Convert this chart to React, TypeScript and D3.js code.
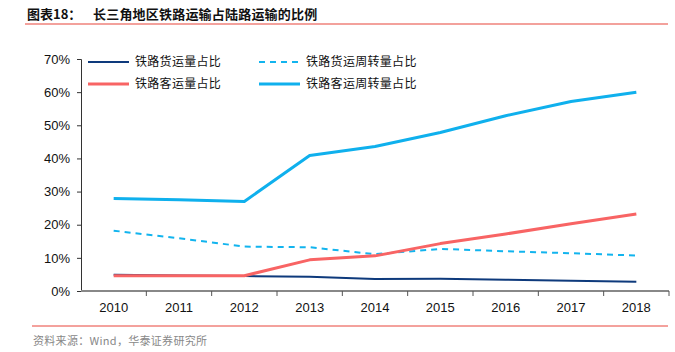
import { useEffect, useRef } from "react"
import * as d3 from "d3"

const years = ["2010", "2011", "2012", "2013", "2014", "2015", "2016", "2017", "2018"]
const freightVolume = [4.9, 4.7, 4.5, 4.3, 3.6, 3.7, 3.4, 3.1, 2.8]
const freightTurnover = [18.2, 15.9, 13.4, 13.2, 11.1, 12.7, 12.0, 11.4, 10.7]
const passengerVolume = [4.6, 4.6, 4.6, 9.4, 10.6, 14.3, 17.2, 20.3, 23.2]
const passengerTurnover = [27.9, 27.5, 27.0, 40.9, 43.6, 47.8, 52.9, 57.2, 60.0]
const yTicks = [0, 10, 20, 30, 40, 50, 60, 70]

const series = [
  { name: "铁路货运量占比", values: freightVolume, color: "#0e3a7c", width: 2, dash: "" },
  { name: "铁路货运周转量占比", values: freightTurnover, color: "#12b4ee", width: 2, dash: "6,5" },
  { name: "铁路客运量占比", values: passengerVolume, color: "#f86464", width: 3, dash: "" },
  { name: "铁路客运周转量占比", values: passengerTurnover, color: "#0fb0ed", width: 3, dash: "" },
]

export default function App() {
  const svgRef = useRef<SVGSVGElement>(null)

  useEffect(() => {
    if (!svgRef.current) return
    const svg = d3.select(svgRef.current)
    svg.selectAll("*").remove()

    const left = 81
    const right = 669
    const top = 59
    const bottom = 291
    const cjk = "'Noto Sans CJK SC', sans-serif"
    const latin = "'Liberation Sans', Arial, sans-serif"

    // title + rules
    svg.append("text")
      .attr("x", 27).attr("y", 19)
      .style("font-family", cjk).style("font-size", "13px").style("font-weight", "bold")
      .attr("fill", "#111")
      .text("图表18：")
    svg.append("text")
      .attr("x", 93).attr("y", 19)
      .style("font-family", cjk).style("font-size", "13px").style("font-weight", "bold")
      .style("letter-spacing", "0.2px")
      .attr("fill", "#111")
      .text("长三角地区铁路运输占陆路运输的比例")
    svg.append("line").attr("x1", 25).attr("x2", 668).attr("y1", 24).attr("y2", 24)
      .attr("stroke", "#e8443a").attr("stroke-width", 1.2)
    svg.append("line").attr("x1", 32).attr("x2", 668).attr("y1", 326).attr("y2", 326)
      .attr("stroke", "#e8443a").attr("stroke-width", 1)
    svg.append("text")
      .attr("x", 33).attr("y", 345)
      .style("font-family", cjk).style("font-size", "11px").style("letter-spacing", "0.3px")
      .attr("fill", "#888")
      .text("资料来源：Wind，华泰证券研究所")

    const x = d3.scaleBand<string>().domain(years).range([left, right])
    const y = d3.scaleLinear().domain([0, 70]).range([bottom, top])

    // y axis
    const yAxis = svg.append("g").attr("transform", `translate(${left},0)`)
      .call(d3.axisLeft(y).tickValues(yTicks).tickSize(4).tickFormat((d) => `${d}%`))
    yAxis.select(".domain").attr("stroke", "#333")
    yAxis.selectAll(".tick line").attr("stroke", "#333")
    yAxis.selectAll("text").style("font-family", latin).style("font-size", "13px").attr("fill", "#111").attr("x", -11)

    // x axis
    const xAxis = svg.append("g").attr("transform", `translate(0,${bottom})`)
    xAxis.append("line").attr("x1", left).attr("x2", right).attr("y1", 0).attr("y2", 0)
      .attr("stroke", "#888").attr("stroke-width", 2)
    const bounds = years.map((d) => x(d) as number).concat([right])
    xAxis.selectAll(".tk").data(bounds.slice(1)).enter().append("line")
      .attr("x1", (d) => d).attr("x2", (d) => d).attr("y1", 0).attr("y2", 5)
      .attr("stroke", "#555").attr("stroke-width", 1)
    xAxis.selectAll(".lbl").data(years).enter().append("text")
      .attr("x", (d) => (x(d) as number) + x.bandwidth() / 2).attr("y", 21)
      .attr("text-anchor", "middle")
      .style("font-family", latin).style("font-size", "13px").attr("fill", "#111")
      .text((d) => d)

    // lines
    const line = d3.line<number>()
      .x((_, i) => (x(years[i]) as number) + x.bandwidth() / 2)
      .y((d) => y(d))
    series.forEach((s) => {
      svg.append("path").datum(s.values).attr("d", line)
        .attr("fill", "none").attr("stroke", s.color).attr("stroke-width", s.width)
        .attr("stroke-dasharray", s.dash || null).attr("stroke-linejoin", "round")
    })

    // legend
    const legendPos = [
      { x: 88, y: 62 }, { x: 259, y: 62 }, { x: 88, y: 84 }, { x: 259, y: 84 },
    ]
    series.forEach((s, i) => {
      const p = legendPos[i]
      svg.append("line").attr("x1", p.x).attr("x2", p.x + 41).attr("y1", p.y).attr("y2", p.y)
        .attr("stroke", s.color).attr("stroke-width", s.width)
        .attr("stroke-dasharray", s.dash || null)
      svg.append("text").attr("x", p.x + 47).attr("y", p.y + 4)
        .style("font-family", cjk).style("font-size", "12px").style("letter-spacing", "0.3px")
        .attr("fill", "#111")
        .text(s.name)
    })
  }, [])

  return (
    <div style={{ width: 675, height: 352 }}>
      <svg ref={svgRef} width={675} height={352} style={{ position: "absolute", left: 0, top: 0 }}></svg>
    </div>
  )
}
